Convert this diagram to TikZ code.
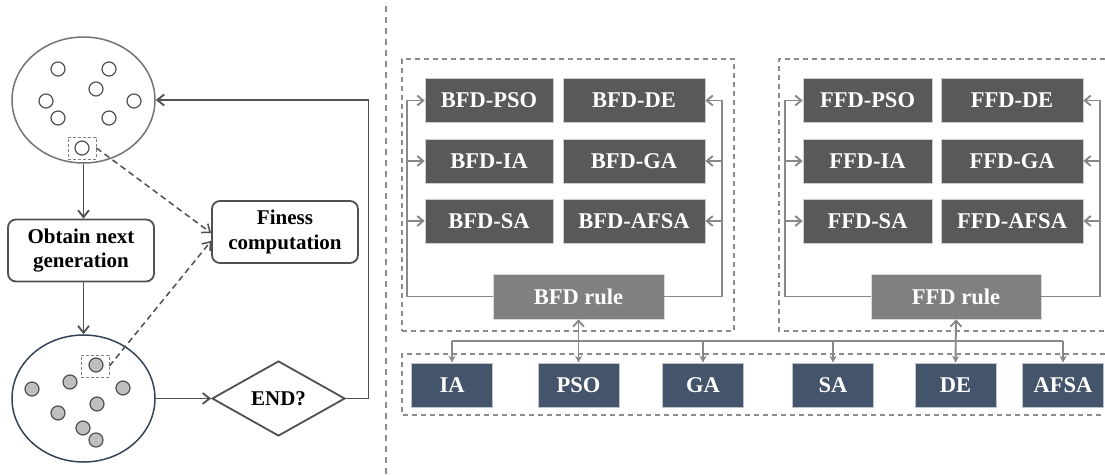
\documentclass[tikz,border=0pt]{standalone}
\usepackage{fontspec}
\setmainfont{Liberation Serif}
\usetikzlibrary{shapes.geometric,arrows.meta,calc}
\definecolor{darkbox}{HTML}{595959}
\definecolor{rulebox}{HTML}{808080}
\definecolor{algbox}{HTML}{44546A}
\definecolor{lineL}{HTML}{505050}
\definecolor{lineR}{HTML}{888888}
\definecolor{dashc}{HTML}{8C8C8C}
\definecolor{dotfill}{HTML}{BFBFBF}
\begin{document}
\begin{tikzpicture}[x=1pt,y=-1pt,
  every node/.style={inner sep=0pt},
  lfont/.style={font=\bfseries\fontsize{21}{24.5}\selectfont},
  rfont/.style={font=\bfseries\fontsize{22.5}{24}\selectfont},
  popell/.style={ellipse, minimum width=143pt, minimum height=126pt, line width=1.5pt},
  dotw/.style={circle, draw=lineL, line width=1.2pt, minimum size=14pt},
  dotg/.style={circle, draw=lineL, fill=dotfill, line width=1.2pt, minimum size=14pt},
  selbox/.style={draw=gray, dash pattern=on 3pt off 2pt, line width=0.9pt, minimum width=28pt, minimum height=22pt},
  stepbox/.style={draw=lineL, rounded corners=8pt, line width=1.8pt, minimum width=146pt, minimum height=62pt, align=center, lfont},
  larr/.style={draw=lineL, line width=1.8pt, -{Straight Barb[length=7pt,width=11pt]}},
  ldash/.style={draw=lineL, line width=1.5pt, dash pattern=on 6pt off 4pt, -{Straight Barb[length=7pt,width=11pt]}},
  grp/.style={draw=dashc, line width=1.4pt, dash pattern=on 5pt off 4pt},
  fbox/.style={fill=darkbox, draw=white!70!darkbox, line width=0.6pt, text=white, minimum height=44pt, rfont},
  rbox/.style={fill=rulebox, draw=white!70!rulebox, line width=0.6pt, text=white, minimum height=45pt, minimum width=171pt, rfont},
  abox/.style={fill=algbox, draw=white!65!algbox, line width=0.6pt, text=white, minimum height=44pt, minimum width=81pt, rfont},
  rline/.style={draw=lineR, line width=1.9pt},
  rarr/.style={draw=lineR, line width=1.9pt, -{Straight Barb[length=6pt,width=10pt]}},
  darr/.style={draw=lineR, line width=1.9pt, -{Stealth[length=7pt,width=7pt]}},
  dbl/.style={draw=lineR, line width=1.9pt, {Straight Barb[length=6pt,width=11pt]}-{Stealth[length=7pt,width=7pt]}}
]
\useasboundingbox (0,0) rectangle (1105,474);

% ---------- left part ----------
\node[popell, draw=gray!90!black] (pop1) at (83.5,100) {};
\node[dotw] (w1) at (58,69) {};
\node[dotw] (w2) at (109,69) {};
\node[dotw] (w3) at (96,89) {};
\node[dotw] (w4) at (46,101) {};
\node[dotw] (w5) at (134,101) {};
\node[dotw] (w6) at (58,118) {};
\node[dotw] (w7) at (109,118) {};
\node[dotw] (w8) at (82,148) {};
\node[selbox] (sel1) at (82,148) {};

\node[stepbox] (obtain) at (81,250.5) {Obtain next\\generation};
\node[stepbox] (fit) at (285,232) {Finess\\computation};

\node[popell, draw=algbox!80!black, minimum height=127pt] (pop2) at (83.5,398.5) {};
\node[dotg] (g1) at (96,365) {};
\node[dotg] (g2) at (70,382) {};
\node[dotg] (g3) at (32,389) {};
\node[dotg] (g4) at (123,388) {};
\node[dotg] (g5) at (97,404) {};
\node[dotg] (g6) at (58,413) {};
\node[dotg] (g7) at (83,428) {};
\node[dotg] (g8) at (96,440) {};
\node[selbox] (sel2) at (95,366) {};

\node[diamond, draw=lineL, line width=1.8pt, aspect=1.77, minimum width=133pt, minimum height=75pt, lfont] (end) at (278.5,398.5) {END?};

\draw[larr] (pop1.south) -- (pop1.south |- obtain.north);
\draw[larr] (pop1.south |- obtain.south) -- (pop2.north);
\draw[larr] (pop2.east) -- (end.west);
\draw[larr] (end.east) -- ++(22.5,0) |- (pop1.east);
\draw[ldash] (sel1.east) -- ($(fit.west)+(0,1)$);
\draw[ldash] (sel2.east) -- ($(fit.west)+(0,9)$);

% divider
\coordinate (dtop) at (386,6);
\coordinate (dbot) at (386,474);
\draw[draw=dashc, line width=1.4pt, dash pattern=on 6pt off 5pt] (dtop) -- (dbot);

% ---------- BFD group ----------
\node[grp, minimum width=332pt, minimum height=272pt] (bgrp) at (568,195) {};
\node[fbox, minimum width=128pt] (b1) at (489,100.5) {BFD-PSO};
\node[fbox, minimum width=142pt] (b2) at (634,100.5) {BFD-DE};
\node[fbox, minimum width=128pt] (b3) at (489,161) {BFD-IA};
\node[fbox, minimum width=142pt] (b4) at (634,161) {BFD-GA};
\node[fbox, minimum width=128pt] (b5) at (489,221) {BFD-SA};
\node[fbox, minimum width=142pt] (b6) at (634,221) {BFD-AFSA};
\node[rbox] (brule) at (578.5,296.5) {BFD rule};
\coordinate (bl) at (407,296.5);
\coordinate (br) at (722,296.5);
\draw[rarr] (brule.west) -- (bl) |- (b1.west);
\draw[rarr] (bl |- b3.west) -- (b3.west);
\draw[rarr] (bl |- b5.west) -- (b5.west);
\draw[rarr] (brule.east) -- (br) |- (b2.east);
\draw[rarr] (br |- b4.east) -- (b4.east);
\draw[rarr] (br |- b6.east) -- (b6.east);

% ---------- FFD group ----------
\coordinate (fg1) at (1105,59);
\coordinate (fg2) at (779,59);
\coordinate (fg3) at (779,331);
\coordinate (fg4) at (1105,331);
\draw[grp] (fg1) -- (fg2) -- (fg3) -- (fg4);
\node[fbox, minimum width=129pt] (f1) at (867.5,100.5) {FFD-PSO};
\node[fbox, minimum width=142pt] (f2) at (1012,100.5) {FFD-DE};
\node[fbox, minimum width=129pt] (f3) at (867.5,161) {FFD-IA};
\node[fbox, minimum width=142pt] (f4) at (1012,161) {FFD-GA};
\node[fbox, minimum width=129pt] (f5) at (867.5,221) {FFD-SA};
\node[fbox, minimum width=142pt] (f6) at (1012,221) {FFD-AFSA};
\node[rbox, minimum width=170pt] (frule) at (956,296.5) {FFD rule};
\coordinate (fl) at (785,296.5);
\coordinate (fr) at (1100,296.5);
\draw[rarr] (frule.west) -- (fl) |- (f1.west);
\draw[rarr] (fl |- f3.west) -- (f3.west);
\draw[rarr] (fl |- f5.west) -- (f5.west);
\draw[rarr] (frule.east) -- (fr) |- (f2.east);
\draw[rarr] (fr |- f4.east) -- (f4.east);
\draw[rarr] (fr |- f6.east) -- (f6.east);

% ---------- algorithm row ----------
\coordinate (ag1) at (1105,354);
\coordinate (ag2) at (402,354);
\coordinate (ag3) at (402,415);
\coordinate (ag4) at (1105,415);
\draw[grp] (ag1) -- (ag2) -- (ag3) -- (ag4);
\node[abox] (ia) at (452,385) {IA};
\node[abox] (pso) at (578.5,385) {PSO};
\node[abox] (ga) at (703,385) {GA};
\node[abox] (sa) at (833,385) {SA};
\node[abox] (de) at (955.5,385) {DE};
\node[abox] (afsa) at (1063,385) {AFSA};

\coordinate (bus) at (452,341);
\draw[rline] (ia.north |- bus) -- (afsa.north |- bus);
\draw[darr] (ia.north |- bus) -- (ia.north);
\draw[darr] (ga.north |- bus) -- (ga.north);
\draw[darr] (sa.north |- bus) -- (sa.north);
\draw[darr] (afsa.north |- bus) -- (afsa.north);
\draw[dbl] (brule.south) -- (pso.north);
\draw[dbl] (frule.south) -- (de.north);
\end{tikzpicture}
\end{document}
